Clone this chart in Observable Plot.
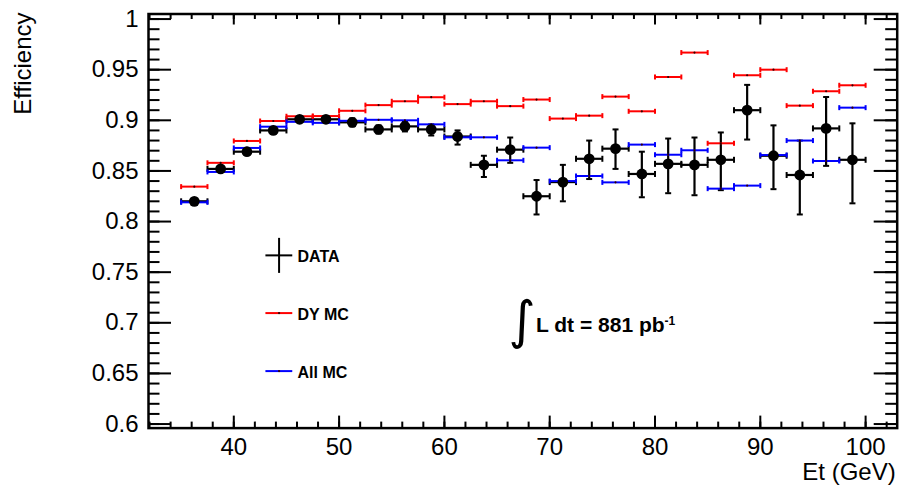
<!DOCTYPE html>
<html><head><meta charset="utf-8">
<script src="https://cdn.jsdelivr.net/npm/d3@7"></script>
<script src="https://cdn.jsdelivr.net/npm/@observablehq/plot@0.6"></script>
<style>body{margin:0;background:#fff;}</style>
</head><body><div id="chart"></div>
<script>
// ---- data ----
const binEdges = [35,37.5,40,42.5,45,47.5,50,52.5,55,57.5,60,62.5,65,67.5,70,72.5,75,77.5,80,82.5,85,87.5,90,92.5,95,97.5,100];
const etCenters = [36.25,38.75,41.25,43.75,46.25,48.75,51.25,53.75,56.25,58.75,61.25,63.75,66.25,68.75,71.25,73.75,76.25,78.75,81.25,83.75,86.25,88.75,91.25,93.75,96.25,98.75];
const dataEff = [0.820,0.852,0.869,0.890,0.901,0.901,0.898,0.891,0.894,0.891,0.884,0.856,0.871,0.825,0.839,0.862,0.872,0.847,0.857,0.856,0.861,0.910,0.865,0.846,0.892,0.861];
const dataErrUp = [0.002,0.003,0.003,0.003,0.003,0.003,0.004,0.004,0.005,0.005,0.006,0.009,0.012,0.016,0.017,0.018,0.019,0.022,0.025,0.027,0.027,0.025,0.030,0.034,0.031,0.036];
const dataErrDown = [0.002,0.003,0.003,0.003,0.003,0.003,0.004,0.004,0.005,0.006,0.008,0.012,0.013,0.018,0.019,0.020,0.020,0.023,0.029,0.030,0.030,0.029,0.033,0.039,0.037,0.043];
const dyMcEff = [0.8345,0.858,0.8796,0.8993,0.904,0.9042,0.9094,0.915,0.9188,0.9228,0.916,0.9188,0.914,0.9205,0.9017,0.9046,0.9234,0.9089,0.9428,0.9669,0.8773,0.9445,0.950,0.9145,0.9287,0.9346];
const allMcEff = [0.819,0.849,0.8727,0.8937,0.8985,0.8975,0.8995,0.9005,0.900,0.896,0.8832,0.8832,0.8605,0.873,0.840,0.845,0.8387,0.876,0.866,0.8704,0.8325,0.8355,0.8657,0.880,0.8598,0.9125];

const yMajorTicks = [0.6,0.65,0.7,0.75,0.8,0.85,0.9,0.95,1];
const yMinorTicks = d3.range(60,101).map(d => d/100);
const xMajorTicks = [40,50,60,70,80,90,100];
const xMinorTicks = d3.range(32,103,2);

const legendLabels = ["DATA","DY MC","All MC"];
const legendColors = ["black","#ff0000","#0000ff"];
const xLabel = "Et (GeV)";
const yLabel = "Efficiency";
const lumiText = "L dt = 881 pb";
const lumiExp = "-1";

// ---- layout ----
const W = 900, H = 486, ML = 148, MR = 3.3, MT = 13.5, MB = 58.4;
const FW = W - ML - MR, FH = H - MT - MB;
const legendPos = {x1: 43.05, x2: 45.6, xc: 44.3, xText: 46.05, ys: [0.7666, 0.7096, 0.6523], crossTop: 0.7834, crossBottom: 0.7488};
const lumiPos = {xInt: 67.35, yInt: 0.7012, xText: 68.7, yText: 0.6975};
const FONT = "'Liberation Sans', Arial, Helvetica, sans-serif";

const rows = etCenters.map((x, i) => ({
  x, lo: binEdges[i], hi: binEdges[i+1],
  eff: dataEff[i], top: dataEff[i] + dataErrUp[i], bot: dataEff[i] - dataErrDown[i],
  dy: dyMcEff[i], all: allMcEff[i]
}));
const legendRows = legendLabels.map((label, i) => ({label, color: legendColors[i], y: legendPos.ys[i]}));

const vCap = {draw(ctx, size){ const h = Math.sqrt(size/Math.PI); ctx.moveTo(0,-h); ctx.lineTo(0,h); }};
const hCap = {draw(ctx, size){ const h = Math.sqrt(size/Math.PI); ctx.moveTo(-h,0); ctx.lineTo(h,0); }};

function mcMarks(key, color) {
  return [
    Plot.ruleY(rows, {y: key, x1: "lo", x2: "hi", stroke: color, strokeWidth: 2}),
    Plot.dot(rows, {x: "lo", y: key, symbol: vCap, r: 2.5, stroke: color, fill: "none", strokeWidth: 2}),
    Plot.dot(rows, {x: "hi", y: key, symbol: vCap, r: 2.5, stroke: color, fill: "none", strokeWidth: 2}),
    Plot.dot(rows, {x: "x", y: key, r: 1.1, fill: "#300", stroke: "none"})
  ];
}

const plot = Plot.plot({
  width: W, height: H,
  marginLeft: ML, marginRight: MR, marginTop: MT, marginBottom: MB,
  x: {domain: [31.9, 103.0]},
  y: {domain: [0.596, 1.005]},
  style: {fontFamily: FONT, background: "white", color: "black", overflow: "visible"},
  marks: [
    // inward ticks on all four sides
    Plot.ruleY(yMinorTicks, {insetRight: FW - 11.5, strokeWidth: 2}),
    Plot.ruleY(yMajorTicks, {insetRight: FW - 23, strokeWidth: 2}),
    Plot.ruleY(yMinorTicks, {insetLeft: FW - 11.5, strokeWidth: 2}),
    Plot.ruleY(yMajorTicks, {insetLeft: FW - 23, strokeWidth: 2}),
    Plot.ruleX(xMinorTicks, {insetTop: FH - 6, strokeWidth: 2}),
    Plot.ruleX(xMajorTicks, {insetTop: FH - 12, strokeWidth: 2}),
    Plot.ruleX(xMinorTicks, {insetBottom: FH - 5.5, strokeWidth: 2}),
    Plot.ruleX(xMajorTicks, {insetBottom: FH - 11, strokeWidth: 2}),
    Plot.frame({strokeWidth: 2.5}),
    Plot.axisY({ticks: yMajorTicks, tickSize: 0, tickPadding: 10, tickFormat: d3.format("~g"), fontSize: 24, label: null}),
    Plot.axisX({ticks: xMajorTicks, tickSize: 0, tickPadding: 10, tickFormat: d3.format("d"), fontSize: 24, label: null}),
    Plot.text([xLabel], {frameAnchor: "bottom-right", textAnchor: "end", dx: -1.5, dy: 52, fontSize: 24}),
    Plot.text([yLabel], {frameAnchor: "top-left", textAnchor: "end", rotate: -90, dx: -135, dy: -1.5, fontSize: 24}),

    // data error bars
    Plot.ruleY(rows, {y: "eff", x1: "lo", x2: "hi", stroke: "black", strokeWidth: 2.2}),
    Plot.ruleX(rows, {x: "x", y1: "bot", y2: "top", stroke: "black", strokeWidth: 2.2}),
    Plot.dot(rows, {x: "lo", y: "eff", symbol: vCap, r: 3, stroke: "black", fill: "none", strokeWidth: 2}),
    Plot.dot(rows, {x: "hi", y: "eff", symbol: vCap, r: 3, stroke: "black", fill: "none", strokeWidth: 2}),
    Plot.dot(rows, {x: "x", y: "top", symbol: hCap, r: 3, stroke: "black", fill: "none", strokeWidth: 2}),
    Plot.dot(rows, {x: "x", y: "bot", symbol: hCap, r: 3, stroke: "black", fill: "none", strokeWidth: 2}),

    // MC
    ...mcMarks("dy", "#ff0000"),
    ...mcMarks("all", "#0000ff"),

    // data markers
    Plot.dot(rows, {x: "x", y: "eff", r: 5.4, fill: "black", stroke: "none"}),

    // legend
    Plot.ruleY(legendRows, {y: "y", x1: () => legendPos.x1, x2: () => legendPos.x2, stroke: "color", strokeWidth: 2}),
    Plot.ruleX(legendRows.slice(0,1), {x: () => legendPos.xc, y1: () => legendPos.crossBottom, y2: () => legendPos.crossTop, stroke: "black", strokeWidth: 2}),
    Plot.dot(legendRows.slice(1), {x: () => legendPos.xc, y: "y", r: 1.1, fill: "#300", stroke: "none"}),
    Plot.text(legendRows, {x: () => legendPos.xText, y: "y", text: "label", textAnchor: "start", fontWeight: "bold", fontSize: 16, dy: 2, fill: "black"}),

    // luminosity annotation
    Plot.text(["\u222B"], {x: () => lumiPos.xInt, y: () => lumiPos.yInt, fontSize: 52, fontFamily: "'DejaVu Sans'", fill: "black"}),
    Plot.text([lumiText], {x: () => lumiPos.xText, y: () => lumiPos.yText, textAnchor: "start", fontWeight: "bold", fontSize: 21, fill: "black"})
  ]
});

// superscript exponent on the luminosity unit
d3.select(plot).selectAll("text").filter(function(){ return this.textContent === lumiText; })
  .append("tspan").attr("dy", "-0.55em").attr("font-size", 12).text(lumiExp);

document.getElementById("chart").appendChild(plot);
</script>
</body></html>
